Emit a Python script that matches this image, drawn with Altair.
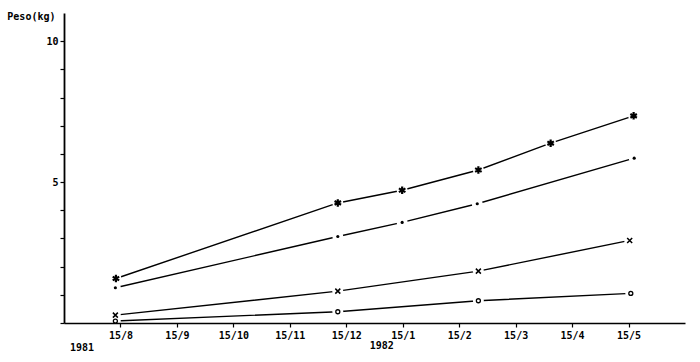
import json
import altair as alt
import pandas as pd

# x is expressed in months: 8 = 15/8/1981, 13 = 15/1/1982, 17 = 15/5/1982
month_ticks = [8, 9, 10, 11, 12, 13, 14, 15, 16, 17]
month_labels = ["15/8", "15/9", "15/10", "15/11", "15/12", "15/1", "15/2", "15/3", "15/4", "15/5"]
peso_ticks = [0, 1, 2, 3, 4, 5, 6, 7, 8, 9, 10]
year_labels = ["1981", "1982"]
year_pos = [7.32, 12.63]
year_peso = [-0.89, -0.82]

# series
ast_mes = [7.92, 11.85, 12.99, 14.34, 15.62, 17.09]
ast_peso = [1.58, 4.26, 4.71, 5.43, 6.38, 7.35]
dot_mes = [7.91, 11.85, 12.99, 14.32, 17.10]
dot_peso = [1.25, 3.07, 3.57, 4.23, 5.85]
x_mes = [7.91, 11.85, 14.34, 17.02]
x_peso = [0.28, 1.13, 1.84, 2.93]
o_mes = [7.91, 11.85, 14.34, 17.04]
o_peso = [0.07, 0.40, 0.79, 1.05]

rows = []
for name, xs, ys in [("ast", ast_mes, ast_peso), ("dot", dot_mes, dot_peso),
                     ("x", x_mes, x_peso), ("o", o_mes, o_peso)]:
    for a, b in zip(xs, ys):
        rows.append({"serie": name, "mes": a, "peso": b})
df = pd.DataFrame(rows)
years_df = pd.DataFrame({"txt": year_labels, "mes": year_pos, "peso": year_peso})

FONT = "DejaVu Sans Mono"
label_expr = f"{json.dumps(month_labels)}[datum.value - {month_ticks[0]}]"

xenc = alt.X("mes:Q", scale=alt.Scale(domain=[7, 18], nice=False, zero=False),
             axis=alt.Axis(values=month_ticks, labelExpr=label_expr, title=None, grid=False,
                           domainColor="black", domainWidth=1.5, tickColor="black",
                           tickSize=4, tickWidth=1.2, labelFont=FONT, labelFontSize=10,
                           labelFontWeight="bold", labelColor="black", labelPadding=3,
                           labelOverlap=False, zindex=1))
yenc = alt.Y("peso:Q", scale=alt.Scale(domain=[0, 11], nice=False, zero=True),
             axis=alt.Axis(values=peso_ticks,
                           labelExpr="datum.value == 5 || datum.value == 10 ? datum.label : ''",
                           title="Peso(kg)", titleAngle=0, titleAlign="right",
                           titleBaseline="middle", titleX=-9, titleY=3, titleFont=FONT,
                           titleFontSize=10, titleFontWeight="bold", titleColor="black",
                           grid=False, domainColor="black", domainWidth=1.8,
                           tickColor="black", tickSize=4, tickWidth=1.2, labelFont=FONT,
                           labelFontSize=10, labelFontWeight="bold", labelColor="black",
                           labelPadding=2, labelOverlap=False, zindex=1))

base = alt.Chart(df)

lines = base.mark_line(color="black", strokeWidth=1.4).encode(
    x=xenc, y=yenc, detail="serie:N")

halo = base.mark_point(filled=True, color="white", opacity=1, size=120,
                       shape="circle", strokeWidth=0).encode(x=xenc, y=yenc)

ast_path = "M0,-1L0,1M-0.87,-0.5L0.87,0.5M-0.87,0.5L0.87,-0.5"
x_path = "M-1,-1L1,1M-1,1L1,-1"

m_ast = base.transform_filter("datum.serie == 'ast'").mark_point(
    shape=ast_path, filled=False, color="black", size=56, strokeWidth=2.2, opacity=1
).encode(x=xenc, y=yenc)
m_dot = base.transform_filter("datum.serie == 'dot'").mark_point(
    shape="circle", filled=True, color="black", size=10, opacity=1
).encode(x=xenc, y=yenc)
m_x = base.transform_filter("datum.serie == 'x'").mark_point(
    shape=x_path, filled=False, color="black", size=25, strokeWidth=1.5, opacity=1
).encode(x=xenc, y=yenc)
m_o = base.transform_filter("datum.serie == 'o'").mark_point(
    shape="circle", filled=False, color="black", size=16, strokeWidth=1.3, opacity=1
).encode(x=xenc, y=yenc)

years = alt.Chart(years_df).mark_text(font=FONT, fontSize=10, fontWeight="bold",
                                      color="black", clip=False).encode(
    x=xenc, y=yenc, text="txt:N")

chart = alt.layer(lines, halo, m_ast, m_dot, m_x, m_o, years).properties(
    width=621, height=310,
    autosize=alt.AutoSizeParams(type="none"),
    padding={"left": 64, "top": 13, "right": 15, "bottom": 39},
    background="white",
).configure_view(stroke=None)

chart.save("out.html", embed_options={"renderer": "svg", "actions": False})
